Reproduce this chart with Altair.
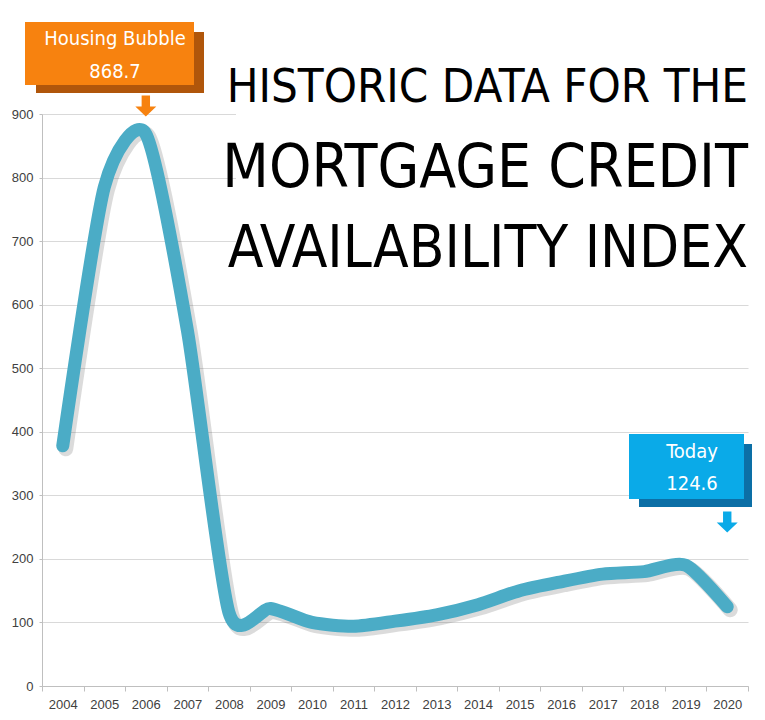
import altair as alt
import pandas as pd

# ---- data ----
years = [str(y) for y in range(2004, 2021)]
mcai = [378, 785, 868.7, 560, 116, 122, 100, 94, 102, 112, 128, 150, 164, 176, 180, 190, 124.6]
y_ticks = [0, 100, 200, 300, 400, 500, 600, 700, 800, 900]
title_lines = ["HISTORIC DATA FOR THE", "MORTGAGE CREDIT", "AVAILABILITY INDEX"]
peak_year, peak_label = "2006", ["Housing Bubble", "868.7"]
today_year, today_label = "2020", ["Today", "124.6"]

df = pd.DataFrame({"year": years, "value": mcai})

W, H = 706, 572
COND = "DejaVu Sans Condensed, sans-serif"
LINE = "#4BACC6"

xenc = alt.X("year:O", bandPosition=0.5,
             scale=alt.Scale(type="band", domain=years, paddingInner=0, paddingOuter=0),
             axis=alt.Axis(title=None, tickBand="extent", labelAngle=0, grid=False,
                           domainColor="#bfbfbf", tickColor="#bfbfbf", tickSize=5,
                           labelPadding=7, labelFont="Liberation Sans", labelFontSize=13,
                           labelColor="#404040"))
yenc = alt.Y("value:Q",
             scale=alt.Scale(domain=[0, 900], nice=False),
             axis=alt.Axis(title=None, values=y_ticks, grid=True, gridColor="#d9d9d9",
                           domainColor="#bfbfbf", tickColor="#bfbfbf", tickSize=3,
                           labelPadding=6, labelFont="Liberation Sans", labelFontSize=13,
                           labelColor="#404040"))

one = alt.Data(values=[{}])

# white panel behind the title
panel = alt.Chart(one).mark_rect(color="white").encode(
    x=alt.value(194), x2=alt.value(724), y=alt.value(-66), y2=alt.value(180))

shadow = alt.Chart(df).mark_line(
    interpolate="cardinal", tension=0.3, color="#6f6f6f", opacity=0.25, strokeWidth=15,
    strokeCap="round", strokeJoin="round", xOffset=3, yOffset=3
).encode(x=xenc, y=yenc)

line = alt.Chart(df).mark_line(
    interpolate="cardinal", tension=0.3, color=LINE, strokeWidth=13,
    strokeCap="round", strokeJoin="round"
).encode(x=xenc, y=yenc)

title_specs = [(title_lines[0], 47, -12), (title_lines[1], 60, 73), (title_lines[2], 58, 153)]
titles = [
    alt.Chart(one).mark_text(text=t, font=COND, fontSize=fs, align="right",
                             baseline="alphabetic", color="black").encode(
        x=alt.value(706), y=alt.value(yy))
    for t, fs, yy in title_specs
]

# Housing bubble callout
ob_sh = alt.Chart(one).mark_rect(color="#B0560B").encode(
    x=alt.value(-6), x2=alt.value(162), y=alt.value(-82), y2=alt.value(-21))
ob = alt.Chart(one).mark_rect(color="#F7820F").encode(
    x=alt.value(-17), x2=alt.value(152), y=alt.value(-92), y2=alt.value(-29))
ob_t1 = alt.Chart(one).mark_text(text=peak_label[0], font=COND, fontSize=20,
                                 color="white", baseline="alphabetic").encode(
    x=alt.value(73), y=alt.value(-69))
ob_t2 = alt.Chart(one).mark_text(text=peak_label[1], font=COND, fontSize=20,
                                 color="white", baseline="alphabetic").encode(
    x=alt.value(73), y=alt.value(-36))

arrow = "M-0.4,-1L0.4,-1L0.4,0.05L1,0.05L0,1L-1,0.05L-0.4,0.05Z"
ob_arrow = alt.Chart(pd.DataFrame({"year": [peak_year]})).mark_point(
    shape=arrow, filled=True, color="#F7820F", size=440, opacity=1).encode(
    x=alt.X("year:O", bandPosition=0.5), y=alt.value(-8))

# Today callout
bb_sh = alt.Chart(one).mark_rect(color="#0C6FA6").encode(
    x=alt.value(597), x2=alt.value(710), y=alt.value(330), y2=alt.value(393))
bb = alt.Chart(one).mark_rect(color="#0AAAE8").encode(
    x=alt.value(587), x2=alt.value(702), y=alt.value(320), y2=alt.value(385))
bb_t1 = alt.Chart(one).mark_text(text=today_label[0], font=COND, fontSize=20,
                                 color="white", baseline="alphabetic").encode(
    x=alt.value(650), y=alt.value(344))
bb_t2 = alt.Chart(one).mark_text(text=today_label[1], font=COND, fontSize=20,
                                 color="white", baseline="alphabetic").encode(
    x=alt.value(650), y=alt.value(376))
bb_arrow = alt.Chart(pd.DataFrame({"year": [today_year]})).mark_point(
    shape=arrow, filled=True, color="#0AAAE8", size=440, opacity=1).encode(
    x=alt.X("year:O", bandPosition=0.5), y=alt.value(408))

chart = alt.layer(
    panel, shadow, line, *titles,
    ob_sh, ob, ob_t1, ob_t2, ob_arrow,
    bb_sh, bb, bb_t1, bb_t2, bb_arrow
).properties(
    width=W, height=H,
    autosize=alt.AutoSizeParams(type="none"),
    padding={"left": 42, "top": 114, "right": 17, "bottom": 34},
    background="white"
).configure_view(stroke=None)

chart.save("out.html", embed_options={"renderer": "svg", "actions": False})
